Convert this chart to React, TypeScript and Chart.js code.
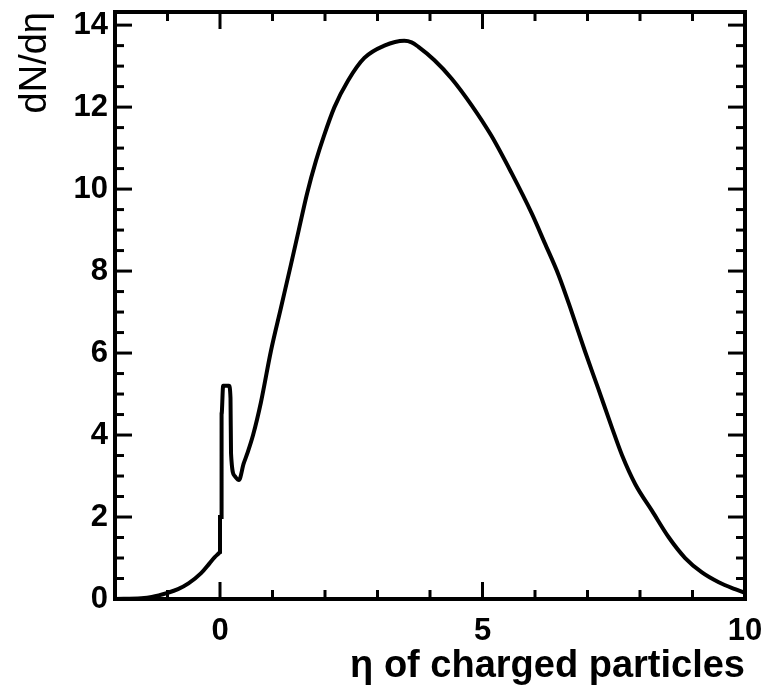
import React, { useEffect, useRef } from 'react';
import { Chart, registerables } from 'chart.js';

Chart.register(...registerables);

// Pseudorapidity (eta) values
const etaValues = [
  -2.0, -1.5, -1.3, -1.0, -0.8, -0.6, -0.36, -0.2, -0.1, -0.02,
  0.0, 0.0, 0.03, 0.03, 0.06, 0.17, 0.2, 0.21, 0.28, 0.36,
  0.45, 0.52, 0.63, 0.78, 0.97, 1.16, 1.35, 1.5, 1.66, 1.83,
  1.98, 2.18, 2.44, 2.75, 3.13, 3.51, 3.65, 3.78, 4.08, 4.41,
  4.79, 5.17, 5.55, 5.94, 6.18, 6.45, 6.7, 6.95, 7.2, 7.46,
  7.66, 7.91, 8.23, 8.55, 8.86, 9.18, 9.5, 9.81, 10.0,
];

// dN/deta values
const dNdEta = [
  0, 0.02, 0.05, 0.15, 0.24, 0.38, 0.63, 0.87, 1.02, 1.12,
  1.15, 2.0, 2.0, 4.5, 5.2, 5.2, 4.9, 3.55, 3.0, 2.9,
  3.3, 3.55, 4.0, 4.8, 6.05, 7.1, 8.15, 9.0, 9.9, 10.7,
  11.3, 12.0, 12.65, 13.2, 13.5, 13.62, 13.58, 13.47, 13.15, 12.7,
  12.05, 11.3, 10.4, 9.4, 8.7, 7.9, 7.0, 6.05, 5.15, 4.2,
  3.5, 2.8, 2.15, 1.5, 1.0, 0.65, 0.41, 0.24, 0.15,
];

const xMajorTicks = [0, 5, 10];
const xMinorTicks = [-1, 1, 2, 3, 4, 6, 7, 8, 9];
const yMajorTicks = [0, 2, 4, 6, 8, 10, 12, 14];
const yMinorTicks = [
  0.5, 1, 1.5, 2.5, 3, 3.5, 4.5, 5, 5.5, 6.5, 7, 7.5, 8.5, 9, 9.5,
  10.5, 11, 11.5, 12.5, 13, 13.5,
];

const xTitle = 'η of charged particles';
const yTitle = 'dN/dη';

const FONT = "'Liberation Sans', Arial, Helvetica, sans-serif";

export default function App() {
  const ref = useRef<HTMLCanvasElement>(null);

  useEffect(() => {
    const frame = {
      id: 'rootFrame',
      afterDatasetsDraw(chart: any) {
        const { ctx, chartArea: a, scales } = chart;
        const xs = scales.x;
        const ys = scales.y;
        ctx.save();
        ctx.strokeStyle = '#000';
        ctx.lineWidth = 3;
        ctx.lineCap = 'butt';
        const majorLen = 17;
        const minorLen = 9;
        const tick = (x1: number, y1: number, x2: number, y2: number) => {
          ctx.beginPath();
          ctx.moveTo(x1, y1);
          ctx.lineTo(x2, y2);
          ctx.stroke();
        };
        xMajorTicks.forEach((v) => {
          const px = xs.getPixelForValue(v);
          tick(px, a.bottom, px, a.bottom - majorLen);
          tick(px, a.top, px, a.top + majorLen);
        });
        xMinorTicks.forEach((v) => {
          const px = xs.getPixelForValue(v);
          tick(px, a.bottom, px, a.bottom - minorLen);
          tick(px, a.top, px, a.top + minorLen);
        });
        yMajorTicks.forEach((v) => {
          const py = ys.getPixelForValue(v);
          tick(a.left, py, a.left + majorLen, py);
          tick(a.right, py, a.right - majorLen, py);
        });
        yMinorTicks.forEach((v) => {
          const py = ys.getPixelForValue(v);
          tick(a.left, py, a.left + minorLen, py);
          tick(a.right, py, a.right - minorLen, py);
        });
        ctx.lineWidth = 4;
        ctx.strokeRect(a.left, a.top, a.right - a.left, a.bottom - a.top);
        ctx.restore();
      },
    };

    const zeroPad = (s: any) => {
      s.paddingLeft = 0;
      s.paddingRight = 0;
      s.paddingTop = 0;
      s.paddingBottom = 0;
    };

    const chart = new Chart(ref.current as HTMLCanvasElement, {
      type: 'line',
      data: {
        datasets: [
          {
            data: etaValues.map((x, i) => ({ x, y: dNdEta[i] })),
            borderColor: '#000',
            borderWidth: 4,
            pointRadius: 0,
            cubicInterpolationMode: 'monotone',
            fill: false,
          },
        ],
      },
      options: {
        animation: false,
        responsive: true,
        maintainAspectRatio: false,
        layout: { padding: { left: 0, right: 19, top: 12, bottom: 0 } },
        plugins: {
          legend: { display: false },
          tooltip: { enabled: false },
        },
        scales: {
          x: {
            type: 'linear',
            min: -2,
            max: 10,
            border: { display: false },
            grid: { display: false, drawTicks: false },
            ticks: {
              stepSize: 5,
              includeBounds: false,
              autoSkip: false,
              maxRotation: 0,
              padding: 17,
              color: '#000',
              font: { family: FONT, weight: 'bold', size: 31, lineHeight: 1 },
              callback: (v: any) => String(v),
            },
            title: {
              display: true,
              text: xTitle,
              align: 'end',
              color: '#000',
              font: { family: FONT, weight: 'bold', size: 38, lineHeight: 1 },
              padding: { top: 0, bottom: 8 },
            },
            afterFit: (s: any) => {
              s.height = 95;
              zeroPad(s);
            },
          },
          y: {
            type: 'linear',
            min: 0,
            max: 14.32,
            border: { display: false },
            grid: { display: false, drawTicks: false },
            ticks: {
              stepSize: 2,
              includeBounds: false,
              autoSkip: false,
              padding: 7,
              color: '#000',
              font: { family: FONT, weight: 'bold', size: 31, lineHeight: 1 },
              callback: (v: any) => String(v),
            },
            title: {
              display: true,
              text: yTitle,
              align: 'end',
              color: '#000',
              font: { family: FONT, weight: 'normal', size: 38, lineHeight: 1 },
              padding: { top: 17, bottom: 0 },
            },
            afterFit: (s: any) => {
              s.width = 115;
              zeroPad(s);
            },
          },
        },
      } as any,
      plugins: [frame],
    });
    return () => chart.destroy();
  }, []);

  return (
    <div
      style={{
        position: 'absolute',
        left: 0,
        top: 0,
        width: 764,
        height: 694,
        background: '#fff',
      }}
    >
      <canvas ref={ref} />
    </div>
  );
}
